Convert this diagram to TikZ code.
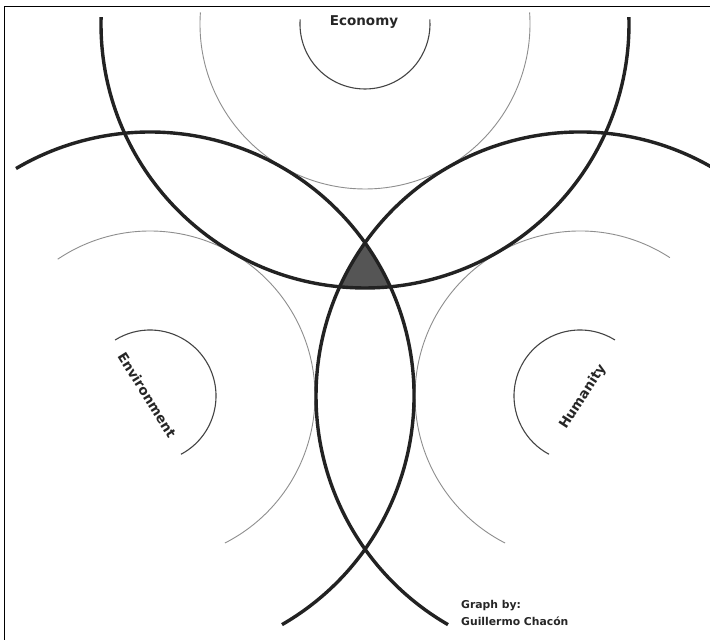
\documentclass[tikz,border=0pt]{standalone}
\usepackage{fontspec}
\setmainfont{DejaVu Sans}
\definecolor{thickc}{HTML}{222222}
\definecolor{fillc}{HTML}{555555}
\definecolor{midc}{HTML}{8E8E8E}
\definecolor{smallc}{HTML}{444444}
\tikzset{
  thickarc/.style={draw=thickc, line width=3.4pt},
  midarc/.style={draw=midc, line width=0.9pt},
  smallarc/.style={draw=smallc, line width=1.1pt},
  label/.style={font=\fontsize{13.5}{16}\selectfont\bfseries, text=black!85, inner sep=0pt},
  credit/.style={font=\fontsize{10.8}{13}\selectfont\bfseries, text=black!85, inner sep=0pt, anchor=base west}
}
\begin{document}
\begin{tikzpicture}[x=1pt,y=1pt]
\useasboundingbox (0,0) rectangle (710,640);
\fill[white] (0,0) rectangle (710,640);
\coordinate (E) at (365,616);
\coordinate (V) at (150,244);
\coordinate (H) at (580,244);
\begin{scope}
\clip (0,0) rectangle (710,640);
% shaded common region
\begin{scope}
\clip (V) circle (264);
\clip (H) circle (264);
\fill[fillc] (E) circle (264);
\end{scope}
% economy
\draw[midarc] ([shift={(176:165)}]E) arc[start angle=176, end angle=364, radius=165];
\draw[smallarc] ([shift={(176:65)}]E) arc[start angle=176, end angle=364, radius=65];
% environment
\draw[midarc] ([shift={(-63:165)}]V) arc[start angle=-63, end angle=124, radius=165];
\draw[smallarc] ([shift={(-62:66)}]V) arc[start angle=-62, end angle=122, radius=66];
% humanity
\draw[midarc] ([shift={(57:165)}]H) arc[start angle=57, end angle=243, radius=165];
\draw[smallarc] ([shift={(58:66)}]H) arc[start angle=58, end angle=242, radius=66];
% thick circles
\draw[thickarc] ([shift={(178.5:264)}]E) arc[start angle=178.5, end angle=361.5, radius=264];
\draw[thickarc] ([shift={(-60:264)}]V) arc[start angle=-60, end angle=120.5, radius=264];
\draw[thickarc] ([shift={(59.5:264)}]H) arc[start angle=59.5, end angle=240, radius=264];
\end{scope}
% frame
\draw[black, line width=1pt] (4,0) -- (4,633) -- (710,633);
% labels
\node[label, anchor=base] (eco) at (364,614) {Economy};
\node[label, rotate=-58] (env) at (147,245) {Environment};
\node[label, rotate=57] (hum) at (583,243) {Humanity};
\node[credit] (cr1) at (461,31) {Graph by:};
\node[credit] (cr2) at (461,14.5) {Guillermo Chacón};
\end{tikzpicture}
\end{document}
